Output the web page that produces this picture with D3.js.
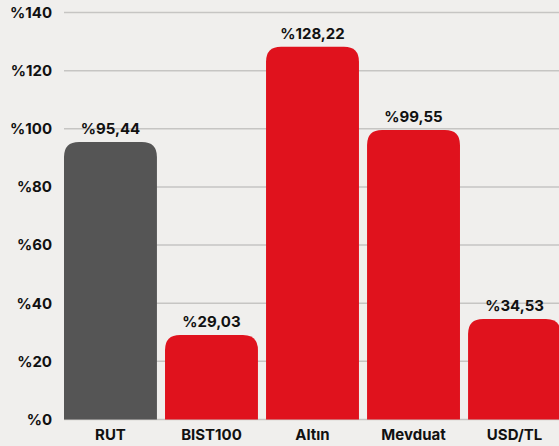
<!DOCTYPE html>
<html lang="tr">
<head>
<meta charset="utf-8">
<title>Getiri karşılaştırması</title>
<script src="https://cdn.jsdelivr.net/npm/d3@7"></script>
<style>
  html, body { margin: 0; padding: 0; background: #f0efed; }
  svg { display: block; font-family: Inter, "Open Sans", sans-serif; }
</style>
</head>
<body>
<svg id="chart" width="559" height="446"></svg>
<script>
// data
var categories = ["RUT", "BIST100", "Altın", "Mevduat", "USD/TL"];
var values = [95.44, 29.03, 128.22, 99.55, 34.53];
var valueLabels = ["%95,44", "%29,03", "%128,22", "%99,55", "%34,53"];
var yTicks = [0, 20, 40, 60, 80, 100, 120, 140];
var barColors = ["#555555", "#e0121d", "#e0121d", "#e0121d", "#e0121d"];

var svg = d3.select("#chart"),
    width = +svg.attr("width"),
    height = +svg.attr("height");

var x = d3.scaleBand()
    .domain(categories)
    .range([64, 561])
    .paddingInner(0.08)
    .paddingOuter(0);

var y = d3.scaleLinear()
    .domain([0, 140])
    .range([419.5, 12.5]);

// grid lines
svg.append("g")
  .selectAll("line")
  .data(yTicks)
  .enter().append("line")
    .attr("x1", 64)
    .attr("x2", width)
    .attr("y1", function(d) { return y(d); })
    .attr("y2", function(d) { return y(d); })
    .attr("stroke", "#c6c5c3")
    .attr("stroke-width", 1.5);

// y labels
svg.append("g")
  .selectAll("text")
  .data(yTicks)
  .enter().append("text")
    .attr("x", 52)
    .attr("y", function(d) { return y(d); })
    .attr("dy", "0.36em")
    .attr("text-anchor", "end")
    .attr("font-size", 15)
    .attr("font-weight", 700)
    .attr("fill", "#111")
    .text(function(d) { return "%" + d; });

// bars with rounded top corners
var r = 15;
function barPath(d, i) {
  var x0 = x(categories[i]), w = x.bandwidth(),
      y0 = y(d), y1 = y(0);
  var rr = Math.min(r, (y1 - y0));
  return "M" + x0 + "," + y1 +
    "V" + (y0 + rr) +
    "Q" + x0 + "," + y0 + " " + (x0 + rr) + "," + y0 +
    "H" + (x0 + w - rr) +
    "Q" + (x0 + w) + "," + y0 + " " + (x0 + w) + "," + (y0 + rr) +
    "V" + y1 + "Z";
}

svg.append("g")
  .selectAll("path")
  .data(values)
  .enter().append("path")
    .attr("d", barPath)
    .attr("fill", function(d, i) { return barColors[i]; });

// value labels
svg.append("g")
  .selectAll("text")
  .data(values)
  .enter().append("text")
    .attr("x", function(d, i) { return x(categories[i]) + x.bandwidth() / 2; })
    .attr("y", function(d) { return y(d) - 8; })
    .attr("text-anchor", "middle")
    .attr("font-size", 15)
    .attr("font-weight", 700)
    .attr("fill", "#111")
    .text(function(d, i) { return valueLabels[i]; });

// category labels
svg.append("g")
  .selectAll("text")
  .data(categories)
  .enter().append("text")
    .attr("x", function(d) { return x(d) + x.bandwidth() / 2; })
    .attr("y", 440)
    .attr("text-anchor", "middle")
    .attr("font-size", 15)
    .attr("font-weight", 700)
    .attr("fill", "#111")
    .text(function(d) { return d; });
</script>
</body>
</html>
